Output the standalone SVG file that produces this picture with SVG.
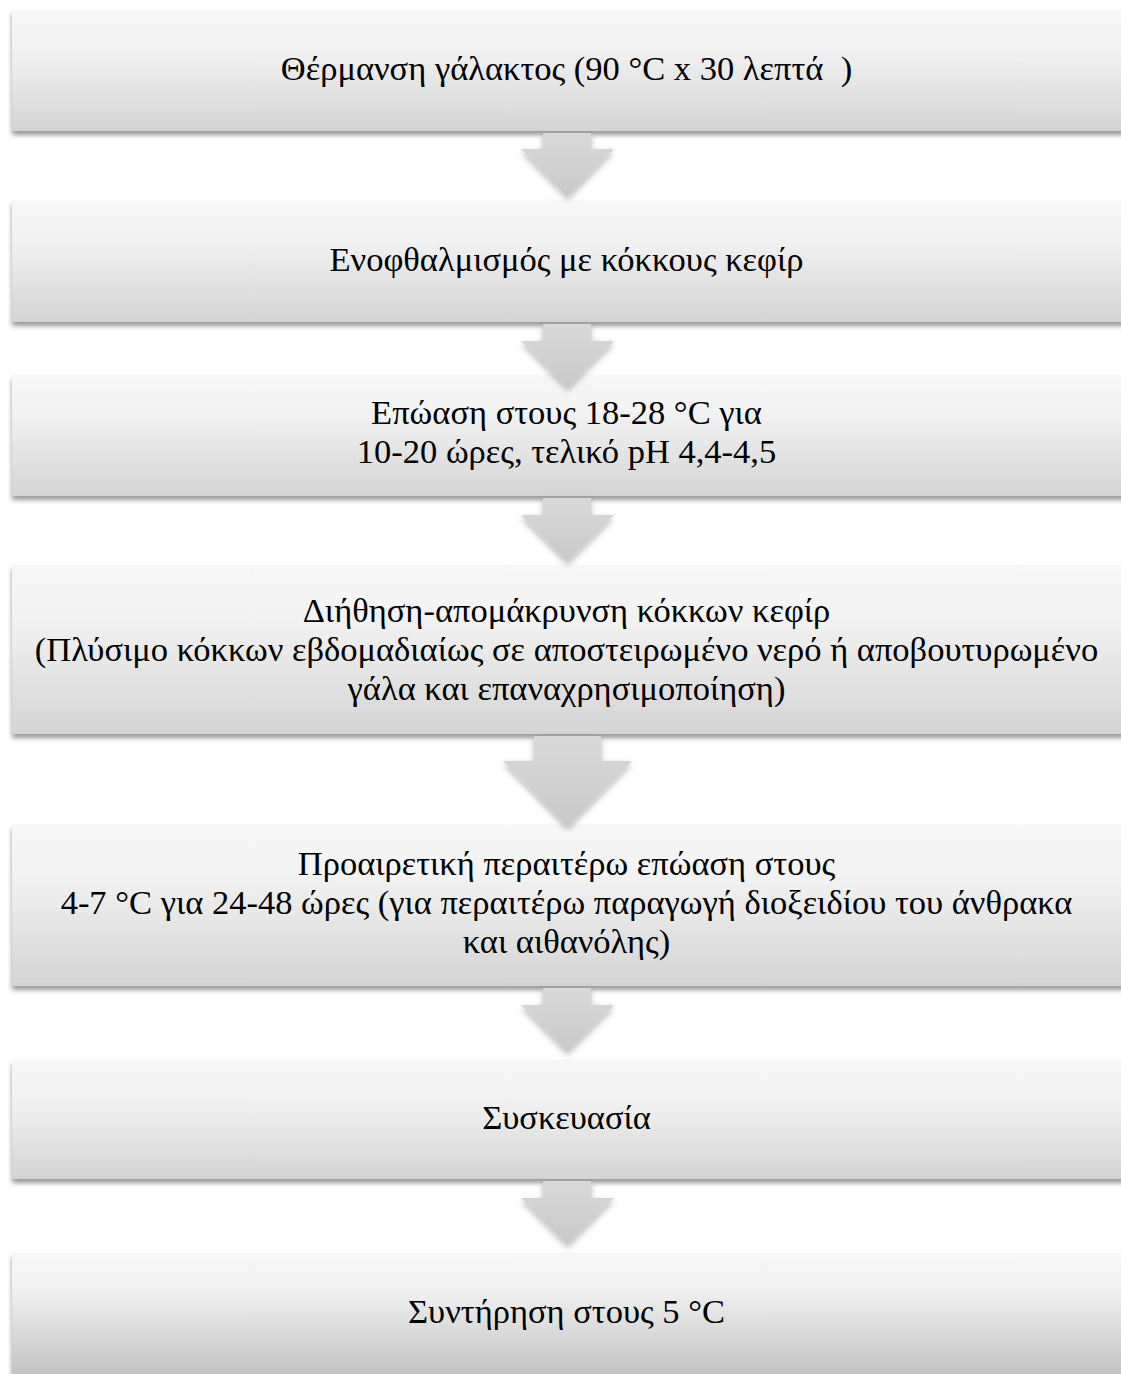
<svg xmlns="http://www.w3.org/2000/svg" width="1121" height="1374" viewBox="0 0 1121 1374">
<style>
.box{fill:url(#g);filter:url(#sh)}
.t{font-family:"Liberation Serif","Times New Roman",serif;font-size:34.5px;fill:#000;text-anchor:middle;white-space:pre}
.arr{fill:url(#ga);filter:url(#sha)}
</style>
<defs>
<linearGradient id="g" x1="0" y1="0" x2="0" y2="1">
<stop offset="0" stop-color="#f7f7f7"/>
<stop offset="0.3" stop-color="#f3f3f3"/>
<stop offset="1" stop-color="#d4d4d4"/>
</linearGradient>
<linearGradient id="g7" x1="0" y1="0" x2="0" y2="1">
<stop offset="0" stop-color="#f7f7f7"/>
<stop offset="0.25" stop-color="#f4f4f4"/>
<stop offset="1" stop-color="#c3c3c3"/>
</linearGradient>
<linearGradient id="ga" x1="0" y1="0" x2="0" y2="1">
<stop offset="0" stop-color="#d9d9d9"/>
<stop offset="1" stop-color="#c9c9c9"/>
</linearGradient>
<filter id="sh" x="-5%" y="-20%" width="110%" height="140%">
<feDropShadow dx="0" dy="4" stdDeviation="2.5" flood-color="#000" flood-opacity="0.4"/>
</filter>
<filter id="sha" x="-30%" y="-30%" width="160%" height="160%">
<feDropShadow dx="0" dy="3" stdDeviation="3" flood-color="#000" flood-opacity="0.28"/>
</filter>
</defs>
<rect width="1121" height="1374" fill="#fff"/>
<g id="node1"><rect class="box" x="12" y="10" width="1120" height="121"/><text class="t" x="566.5" y="80">Θέρμανση γάλακτος (90 °C x 30 λεπτά  )</text></g>
<g id="node2"><rect class="box" x="12" y="200" width="1120" height="122"/><text class="t" x="566.5" y="271">Ενοφθαλμισμός με κόκκους κεφίρ</text></g>
<g id="node3"><rect class="box" x="12" y="375" width="1120" height="121"/><text class="t" x="566.5" y="424">Επώαση στους 18-28 °C για</text><text class="t" x="566.5" y="463">10-20 ώρες, τελικό pH 4,4-4,5</text></g>
<g id="node4"><rect class="box" x="12" y="565" width="1120" height="169"/><text class="t" x="566.5" y="622">Διήθηση-απομάκρυνση κόκκων κεφίρ</text><text class="t" x="566.5" y="661">(Πλύσιμο κόκκων εβδομαδιαίως σε αποστειρωμένο νερό ή αποβουτυρωμένο</text><text class="t" x="566.5" y="700">γάλα και επαναχρησιμοποίηση)</text></g>
<g id="node5"><rect class="box" x="12" y="824" width="1120" height="162"/><text class="t" x="566.5" y="875">Προαιρετική περαιτέρω επώαση στους</text><text class="t" x="566.5" y="914">4-7 °C για 24-48 ώρες (για περαιτέρω παραγωγή διοξειδίου του άνθρακα</text><text class="t" x="566.5" y="953">και αιθανόλης)</text></g>
<g id="node6"><rect class="box" x="12" y="1060" width="1120" height="119"/><text class="t" x="566.5" y="1129">Συσκευασία</text></g>
<g id="node7"><rect x="12" y="1253" width="1120" height="121" fill="url(#g7)" filter="url(#sh)"/><text class="t" x="566.5" y="1323">Συντήρηση στους 5 °C</text></g>
<g id="connectors">
<path class="arr" d="M543,133 H591 V149 H614 L567.5,197 L521,149 H543 Z"/>
<path class="arr" d="M543,324 H591 V341 H614 L567.5,388 L521,341 H543 Z"/>
<path class="arr" d="M543,498 H591 V515 H614 L567.5,562 L521,515 H543 Z"/>
<path class="arr" d="M534,736 H601 V761 H632 L567.5,827 L503,761 H534 Z"/>
<path class="arr" d="M543,988 H591 V1005 H614 L567.5,1052 L521,1005 H543 Z"/>
<path class="arr" d="M543,1181 H591 V1198 H614 L567.5,1245 L521,1198 H543 Z"/>
</g>
</svg>
